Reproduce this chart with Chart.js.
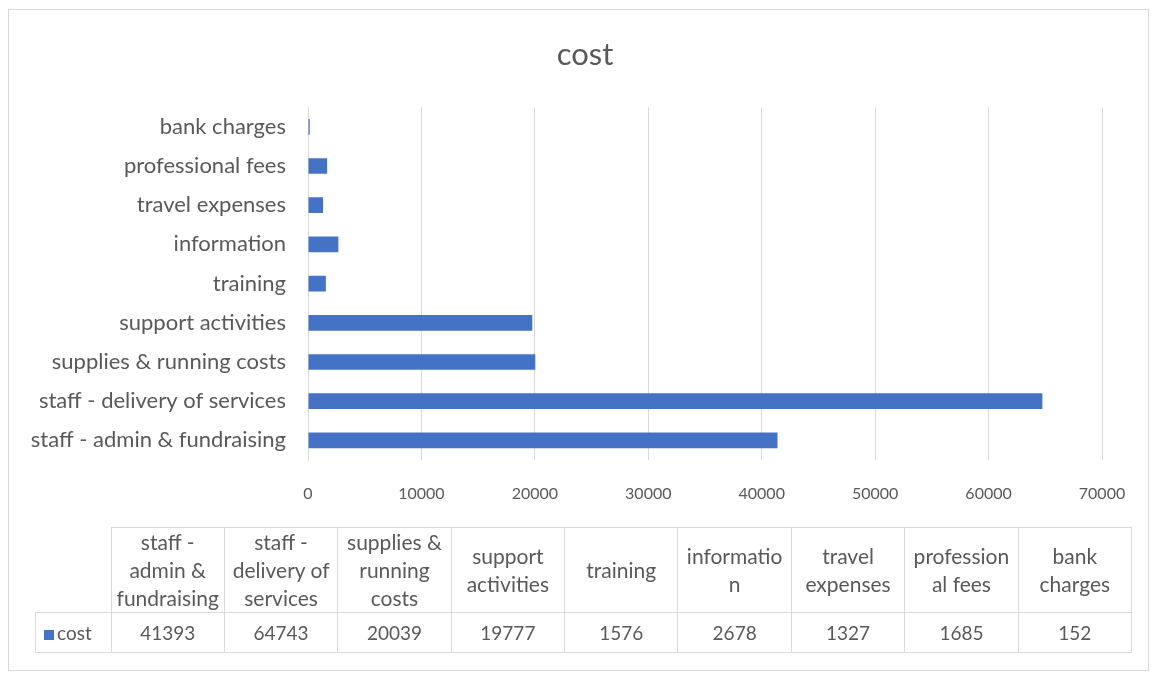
<!DOCTYPE html>
<html>
<head>
<meta charset="utf-8">
<title>cost</title>
<script src="https://cdn.jsdelivr.net/npm/chart.js@4.4.1/dist/chart.umd.min.js"></script>
<style>
  html, body { margin: 0; padding: 0; background: #fff; }
  #wrap { position: relative; width: 1158px; height: 675px; font-family: Lato, "Open Sans", sans-serif; color: #595959; }
  #frame { position: absolute; left: 8px; top: 9px; width: 1141px; height: 662px; border: 1px solid #d9d9d9; box-sizing: border-box; }
  #costChart { position: absolute; left: 0; top: 0; }
  #dataTable { position: absolute; left: 35px; top: 527px; border-collapse: collapse; table-layout: fixed; font-size: 19px; line-height: 28px; }
  #dataTable td { border: 1px solid #d9d9d9; text-align: center; padding: 0; white-space: pre; }
  #dataTable tr.head td { height: 84px; font-size: 21px; }
  #dataTable tr.vals td { height: 39px; }
  #dataTable td.blank { border: none; }
  #dataTable td.key { text-align: left; padding-left: 8px; }
  .swatch { display: inline-block; width: 10px; height: 10px; background: #4472c4; margin-right: 3px; }
</style>
</head>
<body>
<div id="wrap">
  <div id="frame"></div>
  <canvas id="costChart" width="1158" height="675"></canvas>
  <table id="dataTable"></table>
</div>
<script>
// ======================
// DATA
// ======================
const categories = [
  'staff - admin & fundraising',
  'staff - delivery of services',
  'supplies & running costs',
  'support activities',
  'training',
  'information',
  'travel expenses',
  'professional fees',
  'bank charges'
];

// header text as it wraps inside the data table cells
const tableHeads = [
  'staff -\nadmin &\nfundraising',
  'staff -\ndelivery of\nservices',
  'supplies &\nrunning\ncosts',
  'support\nactivities',
  'training',
  'informatio\nn',
  'travel\nexpenses',
  'profession\nal fees',
  'bank\ncharges'
];

const costValues = [41393, 64743, 20039, 19777, 1576, 2678, 1327, 1685, 152];

const seriesName = 'cost';
const xMin = 0;
const xMax = 70000;
const xStep = 10000;

const TEXT = '#595959';
const GRID = '#d9d9d9';
const BAR = '#4472c4';

Chart.defaults.font.family = 'Lato, "Open Sans", sans-serif';
Chart.defaults.color = TEXT;

// ======================
// BAR CHART
// ======================
new Chart(document.getElementById('costChart'), {
  type: 'bar',
  data: {
    labels: categories,
    datasets: [{
      label: seriesName,
      data: costValues,
      backgroundColor: BAR,
      borderWidth: 0,
      categoryPercentage: 0.8,
      barPercentage: 0.5
    }]
  },
  options: {
    indexAxis: 'y',
    responsive: false,
    animation: false,
    layout: {
      padding: { left: 12, right: 0, top: 0, bottom: 170 }
    },
    plugins: {
      legend: { display: false },
      tooltip: { enabled: false },
      title: {
        display: true,
        text: seriesName,
        color: TEXT,
        font: { size: 31, weight: 'normal' },
        padding: { top: 36, bottom: 34 }
      }
    },
    scales: {
      x: {
        min: xMin,
        max: xMax,
        afterFit: (scale) => { scale.height = 45; },
        ticks: {
          stepSize: xStep,
          padding: 24,
          color: TEXT,
          font: { size: 16 },
          callback: (v) => String(v)
        },
        grid: { color: GRID, drawTicks: false },
        border: { display: false }
      },
      y: {
        reverse: true,
        afterFit: (scale) => { scale.width = 296; },
        ticks: {
          padding: 22,
          color: TEXT,
          font: { size: 22 }
        },
        grid: { display: false, drawTicks: false },
        border: { display: true, color: GRID }
      },
      // empty right-hand gutter so the plot stops short of the frame
      gutter: {
        type: 'category',
        axis: 'y',
        position: 'right',
        afterFit: (scale) => { scale.width = 56; },
        ticks: { display: false },
        grid: { display: false, drawTicks: false },
        border: { display: false }
      }
    }
  }
});

// ======================
// DATA TABLE
// ======================
const table = document.getElementById('dataTable');
const colWidth = 112.4;

let head = '<tr class="head"><td class="blank" style="width:75px"></td>';
tableHeads.forEach(h => {
  head += `<td style="width:${colWidth}px">${h.replace(/&/g, '&amp;')}</td>`;
});
head += '</tr>';

let vals = `<tr class="vals"><td class="key"><span class="swatch"></span>${seriesName}</td>`;
costValues.forEach(v => {
  vals += `<td>${v}</td>`;
});
vals += '</tr>';

table.innerHTML = head + vals;
</script>
</body>
</html>
